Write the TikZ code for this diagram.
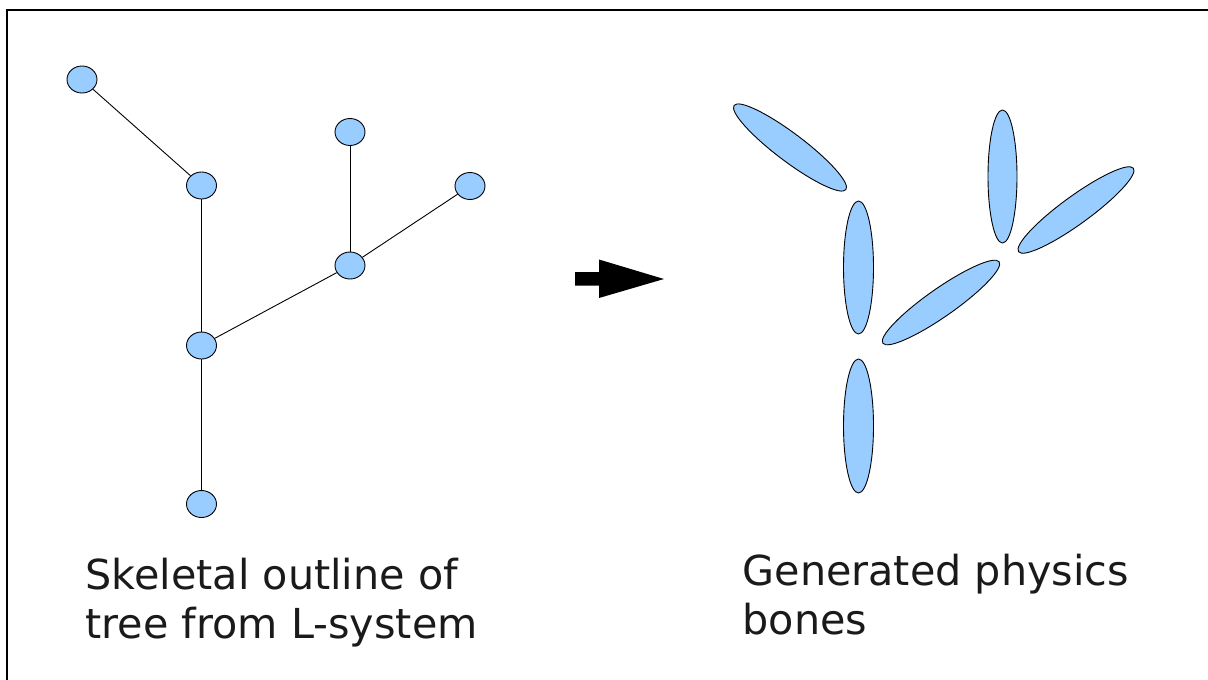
\documentclass[tikz,border=0pt]{standalone}
\usepackage{fontspec}
\setmainfont{DejaVu Sans}
\usetikzlibrary{shapes.geometric}
\definecolor{bonefill}{HTML}{99CCFF}
\definecolor{labeltext}{HTML}{1A1A1A}
\tikzset{
  joint/.style={ellipse, draw=black, fill=bonefill, line width=0.9pt,
    minimum width=30pt, minimum height=27pt, inner sep=0pt},
  limb/.style={draw=black, line width=0.9pt},
  bone/.style={draw=black, fill=bonefill, line width=0.9pt},
  caption/.style={anchor=base west, align=left, inner sep=0pt,
    text=labeltext, font=\fontsize{41.3}{48.5}\selectfont}
}
\begin{document}
\begin{tikzpicture}[x=1pt, y=-1pt]
\useasboundingbox (0,0) rectangle (1208,680);
% frame: top and left edges only
\draw[line width=2pt] (1208,10) -- (7,10) -- (7,680);

% skeletal tree from the L-system
\node[joint] (tip1) at (82,79.5) {};
\node[joint] (fork1) at (201.5,185.5) {};
\node[joint] (tip2) at (350,132) {};
\node[joint] (tip3) at (470,186) {};
\node[joint] (fork2) at (350,265.5) {};
\node[joint] (fork3) at (201.5,345.5) {};
\node[joint] (root) at (201.5,504) {};
\draw[limb] (tip1) -- (fork1);
\draw[limb] (fork1) -- (fork3);
\draw[limb] (fork3) -- (fork2);
\draw[limb] (fork2) -- (tip2);
\draw[limb] (fork2) -- (tip3);
\draw[limb] (fork3) -- (root);

% arrow between the two stages
\fill[black] (575,272) -- (599,272) -- (599,259.5) -- (664,279) -- (599,298)
  -- (599,285.5) -- (575,285.5) -- cycle;

% physics bones
\draw[bone, rotate around={-37:(790,147.5)}] (790,147.5) ellipse [x radius=70pt, y radius=14pt];
\draw[bone] (858.5,267.5) ellipse [x radius=15pt, y radius=66.5pt];
\draw[bone] (1002.5,176.5) ellipse [x radius=14.5pt, y radius=66.5pt];
\draw[bone, rotate around={36:(1076,210)}] (1076,210) ellipse [x radius=71pt, y radius=14pt];
\draw[bone, rotate around={35:(941,302.5)}] (941,302.5) ellipse [x radius=71pt, y radius=14pt];
\draw[bone] (858.5,426) ellipse [x radius=15pt, y radius=67pt];

% captions (anchored on the baseline of their last line)
\node[caption] (leftcap) at (85.5,638) {Skeletal outline of\\tree from L-system};
\node[caption] (rightcap) at (742.5,634) {Generated physics\\bones};
\end{tikzpicture}
\end{document}
